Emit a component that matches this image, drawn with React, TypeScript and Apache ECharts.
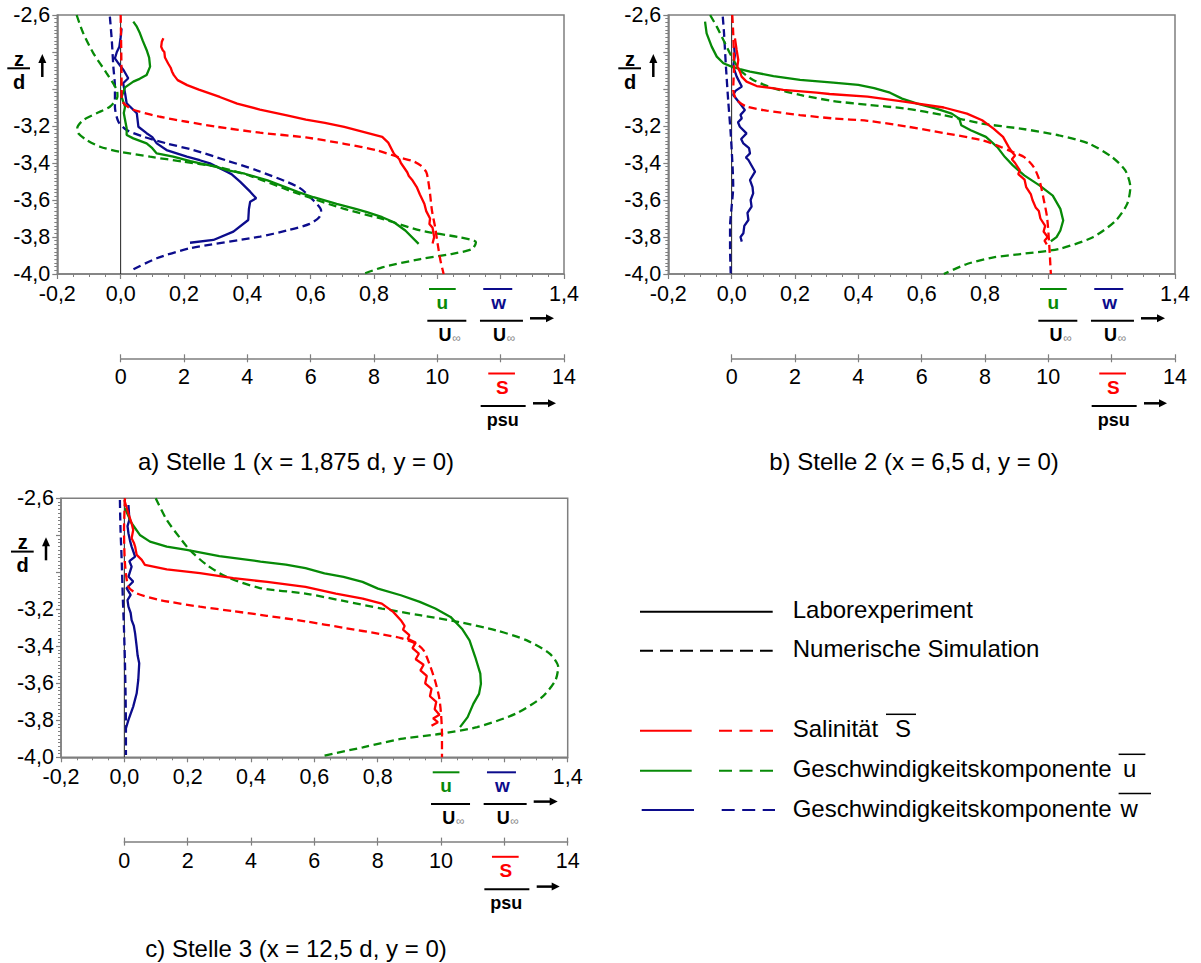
import React, { useEffect, useRef } from "react";
import * as echarts from "echarts";

// ---------- DATA (x = u/U∞ or w/U∞, S in psu ; y = z/d) ----------
const zeroLine = [[0, -2.6], [0, -4.0]];

// Panel a) Stelle 1
const redSolidA = [[1.35,-2.726],[1.30,-2.745],[1.28,-2.772],[1.33,-2.79],[1.38,-2.80],[1.40,-2.83],[1.50,-2.862],[1.58,-2.885],[1.62,-2.905],[1.68,-2.925],[1.80,-2.952],[2.10,-2.979],[2.47,-3.003],[3.13,-3.043],[3.68,-3.079],[4.40,-3.111],[5.25,-3.142],[5.85,-3.165],[6.45,-3.183],[7.06,-3.205],[7.66,-3.232],[8.26,-3.259],[8.45,-3.29],[8.63,-3.35],[8.80,-3.38],[8.85,-3.40],[9.05,-3.45],[9.10,-3.47],[9.20,-3.49],[9.35,-3.53],[9.45,-3.57],[9.59,-3.62],[9.65,-3.66],[9.77,-3.70],[9.75,-3.73],[9.85,-3.75],[9.90,-3.80],[9.85,-3.835]];
const redDashA = [[0.0,-2.6],[0.02,-2.8],[0.03,-3.0],[0.03,-3.059],[0.30,-3.104],[0.61,-3.123],[1.24,-3.150],[2.09,-3.177],[3.03,-3.204],[4.40,-3.236],[5.85,-3.262],[7.06,-3.296],[8.10,-3.332],[8.80,-3.370],[9.23,-3.39],[9.47,-3.413],[9.65,-3.449],[9.71,-3.494],[9.77,-3.566],[9.83,-3.657],[9.93,-3.747],[10.01,-3.837],[10.10,-3.928],[10.20,-4.0]];
const greenSolidA = [[0.040,-2.636],[0.05,-2.66],[0.061,-2.699],[0.07,-2.74],[0.082,-2.789],[0.09,-2.83],[0.093,-2.879],[0.082,-2.924],[0.06,-2.945],[0.040,-2.96],[0.014,-2.991],[0.003,-3.042],[0.014,-3.096],[0.01,-3.13],[0.014,-3.168],[0.019,-3.212],[0.019,-3.249],[0.040,-3.267],[0.082,-3.294],[0.10,-3.32],[0.114,-3.348],[0.166,-3.366],[0.22,-3.39],[0.251,-3.402],[0.30,-3.42],[0.335,-3.438],[0.392,-3.458],[0.464,-3.494],[0.561,-3.557],[0.609,-3.585],[0.682,-3.621],[0.742,-3.648],[0.778,-3.666],[0.826,-3.693],[0.863,-3.72],[0.899,-3.765],[0.941,-3.837]];
const greenDashA = [[-0.139,-2.6],[-0.118,-2.699],[-0.086,-2.807],[-0.044,-2.915],[-0.012,-3.005],[-0.010,-3.04],[-0.034,-3.096],[-0.076,-3.131],[-0.118,-3.168],[-0.137,-3.212],[-0.134,-3.239],[-0.107,-3.276],[-0.065,-3.312],[-0.002,-3.339],[0.093,-3.366],[0.198,-3.393],[0.303,-3.42],[0.409,-3.47],[0.561,-3.566],[0.706,-3.648],[0.826,-3.702],[0.947,-3.765],[1.068,-3.801],[1.122,-3.828],[1.110,-3.865],[1.044,-3.892],[0.947,-3.919],[0.826,-3.964],[0.766,-4.0]];
const blueSolidA = [[0.003,-2.672],[0.0,-2.72],[-0.004,-2.771],[-0.012,-2.80],[-0.018,-2.834],[-0.007,-2.861],[0.01,-2.90],[0.024,-2.942],[0.008,-2.969],[0.014,-3.023],[0.019,-3.077],[0.051,-3.131],[0.056,-3.204],[0.082,-3.239],[0.10,-3.26],[0.114,-3.294],[0.145,-3.33],[0.209,-3.366],[0.25,-3.385],[0.282,-3.402],[0.335,-3.447],[0.35,-3.46],[0.377,-3.501],[0.409,-3.555],[0.428,-3.591],[0.409,-3.609],[0.405,-3.65],[0.403,-3.708],[0.356,-3.771],[0.293,-3.816],[0.219,-3.831]];
const blueDashA = [[-0.034,-2.609],[-0.028,-2.735],[-0.023,-2.879],[-0.018,-2.988],[-0.018,-3.096],[-0.007,-3.177],[0.019,-3.222],[0.072,-3.258],[0.145,-3.294],[0.23,-3.33],[0.33,-3.384],[0.43,-3.44],[0.561,-3.53],[0.609,-3.603],[0.633,-3.657],[0.627,-3.693],[0.597,-3.729],[0.525,-3.765],[0.44,-3.798],[0.219,-3.861],[0.114,-3.915],[0.040,-3.975]];

// Panel b) Stelle 2
const redSolidB = [[0.105,-2.726],[0.158,-2.789],[0.21,-2.843],[0.18,-2.879],[0.26,-2.906],[0.316,-2.933],[0.47,-2.96],[0.79,-2.984],[1.28,-2.995],[1.63,-3.005],[2.68,-3.02],[3.09,-3.027],[4.29,-3.041],[5.5,-3.07],[6.70,-3.10],[7.43,-3.133],[7.91,-3.169],[8.27,-3.214],[8.57,-3.259],[8.75,-3.314],[8.85,-3.34],[8.95,-3.36],[8.85,-3.38],[8.95,-3.40],[9.10,-3.44],[9.05,-3.46],[9.25,-3.49],[9.30,-3.53],[9.45,-3.57],[9.50,-3.60],[9.60,-3.64],[9.70,-3.66],[9.75,-3.70],[9.90,-3.74],[9.85,-3.77],[9.98,-3.80],[9.88,-3.82],[9.95,-3.84]];
const redDashB = [[0.02,-2.6],[0.05,-2.699],[0.074,-2.879],[0.05,-3.005],[0.158,-3.059],[0.47,-3.095],[1.105,-3.117],[2.158,-3.141],[3.21,-3.159],[4.29,-3.172],[5.5,-3.202],[6.70,-3.238],[7.91,-3.277],[8.51,-3.314],[8.88,-3.341],[9.24,-3.368],[9.54,-3.422],[9.72,-3.494],[9.84,-3.585],[9.96,-3.693],[10.02,-3.819],[10.08,-4.0]];
const greenSolidB = [[-0.084,-2.636],[-0.079,-2.699],[-0.063,-2.771],[-0.047,-2.825],[-0.026,-2.861],[0.0,-2.879],[0.026,-2.892],[0.058,-2.906],[0.132,-2.93],[0.216,-2.951],[0.321,-2.966],[0.40,-2.978],[0.45,-2.995],[0.50,-3.02],[0.538,-3.052],[0.586,-3.079],[0.646,-3.106],[0.695,-3.133],[0.719,-3.16],[0.725,-3.196],[0.755,-3.223],[0.803,-3.259],[0.839,-3.314],[0.863,-3.368],[0.888,-3.413],[0.924,-3.467],[0.972,-3.521],[1.014,-3.576],[1.038,-3.648],[1.047,-3.711],[1.038,-3.765],[1.026,-3.801],[1.008,-3.823]];
const greenDashB = [[-0.068,-2.6],[-0.047,-2.663],[-0.026,-2.735],[0.0,-2.825],[0.026,-2.897],[0.068,-2.951],[0.132,-2.996],[0.216,-3.032],[0.321,-3.065],[0.429,-3.085],[0.55,-3.106],[0.67,-3.142],[0.791,-3.187],[0.912,-3.214],[1.032,-3.25],[1.129,-3.296],[1.201,-3.368],[1.243,-3.44],[1.259,-3.53],[1.249,-3.621],[1.213,-3.711],[1.141,-3.801],[1.032,-3.865],[0.912,-3.892],[0.827,-3.91],[0.743,-3.946],[0.67,-4.0]];
const blueSolidB = [[0.008,-2.771],[0.01,-2.82],[0.005,-2.879],[0.016,-2.933],[0.032,-2.987],[0.012,-3.01],[0.005,-3.032],[0.026,-3.077],[0.042,-3.114],[0.028,-3.14],[0.032,-3.159],[0.02,-3.18],[0.026,-3.204],[0.047,-3.24],[0.03,-3.27],[0.037,-3.294],[0.055,-3.32],[0.058,-3.348],[0.045,-3.37],[0.053,-3.384],[0.074,-3.447],[0.058,-3.492],[0.066,-3.53],[0.068,-3.564],[0.06,-3.60],[0.063,-3.636],[0.05,-3.67],[0.053,-3.708],[0.04,-3.74],[0.037,-3.78],[0.028,-3.80],[0.032,-3.825]];
const blueDashB = [[-0.028,-2.609],[-0.024,-2.699],[-0.018,-2.879],[-0.011,-3.059],[-0.003,-3.24],[0.003,-3.42],[0.005,-3.528],[0.0,-3.636],[-0.005,-3.744],[-0.005,-3.852],[-0.003,-3.996]];

// Panel c) Stelle 3
const redSolidC = [[0.0,-2.609],[0.126,-2.681],[0.23,-2.735],[0.28,-2.771],[0.23,-2.816],[0.30,-2.84],[0.34,-2.861],[0.39,-2.906],[0.55,-2.933],[0.65,-2.96],[1.34,-2.984],[2.39,-3.005],[3.44,-3.032],[4.51,-3.052],[5.72,-3.079],[6.68,-3.115],[7.53,-3.142],[8.13,-3.169],[8.49,-3.214],[8.73,-3.259],[8.85,-3.29],[8.80,-3.31],[9.0,-3.34],[8.95,-3.36],[9.2,-3.38],[9.1,-3.41],[9.3,-3.44],[9.2,-3.47],[9.45,-3.50],[9.35,-3.53],[9.55,-3.56],[9.5,-3.60],[9.7,-3.63],[9.65,-3.67],[9.85,-3.70],[9.8,-3.74],[9.95,-3.77],[9.75,-3.79],[9.9,-3.81],[9.7,-3.83]];
const redDashC = [[0.02,-2.6],[-0.01,-2.771],[0.02,-2.951],[0.126,-3.077],[0.39,-3.114],[1.13,-3.15],[2.39,-3.186],[3.44,-3.21],[4.5,-3.235],[5.72,-3.265],[6.92,-3.30],[8.13,-3.335],[8.73,-3.356],[9.21,-3.386],[9.45,-3.422],[9.63,-3.494],[9.81,-3.585],[9.94,-3.675],[10.0,-3.765],[10.03,-3.874],[10.03,-4.0]];
const greenSolidC = [[0.002,-2.654],[0.023,-2.735],[0.049,-2.798],[0.081,-2.834],[0.134,-2.861],[0.197,-2.879],[0.30,-2.912],[0.43,-2.942],[0.51,-2.958],[0.572,-2.978],[0.632,-3.006],[0.692,-3.025],[0.752,-3.052],[0.801,-3.088],[0.873,-3.124],[0.933,-3.16],[0.982,-3.196],[1.03,-3.241],[1.066,-3.305],[1.09,-3.368],[1.108,-3.458],[1.124,-3.548],[1.126,-3.603],[1.12,-3.657],[1.102,-3.711],[1.084,-3.783],[1.06,-3.837]];
const greenDashC = [[0.099,-2.6],[0.134,-2.717],[0.176,-2.815],[0.207,-2.88],[0.26,-2.96],[0.323,-3.025],[0.428,-3.085],[0.572,-3.115],[0.692,-3.155],[0.813,-3.196],[0.933,-3.232],[1.054,-3.268],[1.174,-3.314],[1.271,-3.368],[1.343,-3.44],[1.37,-3.512],[1.361,-3.585],[1.319,-3.675],[1.235,-3.765],[1.114,-3.837],[0.994,-3.874],[0.873,-3.901],[0.753,-3.946],[0.632,-3.991]];
const blueSolidC = [[0.013,-2.636],[0.016,-2.717],[0.01,-2.75],[0.013,-2.789],[0.018,-2.83],[0.023,-2.861],[0.034,-2.915],[0.016,-2.94],[0.023,-2.969],[0.013,-3.023],[0.028,-3.05],[0.007,-3.086],[0.02,-3.122],[0.01,-3.15],[0.013,-3.186],[0.02,-3.22],[0.023,-3.258],[0.03,-3.29],[0.034,-3.33],[0.039,-3.402],[0.042,-3.45],[0.047,-3.492],[0.044,-3.582],[0.039,-3.654],[0.028,-3.726],[0.013,-3.798],[0.005,-3.843]];
const blueDashC = [[-0.014,-2.609],[-0.012,-2.771],[-0.008,-2.951],[-0.005,-3.132],[-0.001,-3.312],[0.002,-3.492],[0.004,-3.672],[0.005,-3.852],[0.005,-3.987]];

const captions = ["a) Stelle 1 (x = 1,875 d, y = 0)", "b) Stelle 2 (x = 6,5 d, y = 0)", "c) Stelle 3 (x = 12,5 d, y = 0)"];
const legendRows = ["Laborexperiment", "Numerische Simulation", "Salinität", "Geschwindigkeitskomponente", "Geschwindigkeitskomponente"];

// ---------- LAYOUT / STYLE ----------
const FONT = "'Liberation Sans', Arial, Helvetica, sans-serif";
const RED = "#ff0000";
const GREEN = "#078a07";
const BLUE = "#0c0c8c";
const GRAY = "#7f7f7f";
const W = 506.7;
const H = 259;
const TICK_FONT = 21.5;
const LW = 2.3;
const PANELS = [
  { left: 57.3, top: 15, capX: 296, capY: 461 },
  { left: 668.3, top: 15, capX: 914, capY: 461 },
  { left: 61, top: 498.3, capX: 296, capY: 948 },
];
const panelData = [
  { rs: redSolidA, rd: redDashA, gs: greenSolidA, gd: greenDashA, bs: blueSolidA, bd: blueDashA },
  { rs: redSolidB, rd: redDashB, gs: greenSolidB, gd: greenDashB, bs: blueSolidB, bd: blueDashB },
  { rs: redSolidC, rd: redDashC, gs: greenSolidC, gd: greenDashC, bs: blueSolidC, bd: blueDashC },
];

const fmt1 = (v: number) => {
  const r = Math.round(v * 10) / 10;
  return (r === 0 ? 0 : r).toFixed(1).replace(".", ",");
};

function txt(x: number, y: number, text: string, opts: any = {}) {
  return {
    type: "text",
    x,
    y,
    silent: true,
    style: {
      text,
      fill: opts.fill || "#000",
      font: opts.font || `24px ${FONT}`,
      textAlign: opts.align || "center",
      textVerticalAlign: "middle",
      verticalAlign: "middle",
    },
  };
}
function ln(x1: number, y1: number, x2: number, y2: number, stroke = "#000", lineWidth = 2, lineDash?: number[]) {
  return {
    type: "line",
    silent: true,
    shape: { x1, y1, x2, y2 },
    style: { stroke, lineWidth, lineDash },
  };
}
function poly(points: number[][], fill = "#000") {
  return { type: "polygon", silent: true, shape: { points }, style: { fill } };
}

function panelGraphics(p: any, caption: string) {
  const L = p.left, T = p.top, R = L + W;
  const t10 = L + 0.75 * W;
  const t12 = L + 0.875 * W;
  const bold = `bold 19px ${FONT}`;
  const boldS = `bold 18px ${FONT}`;
  const inf = `12px ${FONT}`;
  const els: any[] = [];
  // u / U∞
  els.push(ln(t10 - 8.3, T + 274, t10 + 18.4, T + 274, GREEN, 2));
  els.push(txt(t10 + 5, T + 287, "u", { fill: GREEN, font: bold }));
  els.push(ln(t10 - 10, T + 305.7, t10 + 29, T + 305.7, "#000", 2));
  els.push(txt(t10 + 7.7, T + 319.5, "U", { font: boldS }));
  els.push(txt(t10 + 15, T + 322.5, "∞", { font: inf, fill: "#8a8a8a", align: "left" }));
  // w / U∞
  els.push(ln(t12 - 17.4, T + 274, t12 + 11.6, T + 274, BLUE, 2));
  els.push(txt(t12 - 2, T + 287, "w", { fill: BLUE, font: bold }));
  els.push(ln(t12 - 20.7, T + 305.7, t12 + 22.3, T + 305.7, "#000", 2));
  els.push(txt(t12 - 1.2, T + 319.5, "U", { font: boldS }));
  els.push(txt(t12 + 6, T + 322.5, "∞", { font: inf, fill: "#8a8a8a", align: "left" }));
  // arrow after u,w
  els.push(ln(R - 34, T + 303.3, R - 17, T + 303.3, "#000", 2.5));
  els.push(poly([[R - 10, T + 303.3], [R - 18, T + 299.3], [R - 18, T + 307.3]]));
  // S / psu
  els.push(ln(t12 - 12.4, T + 358.5, t12 + 14.3, T + 358.5, RED, 2));
  els.push(txt(t12 + 1.6, T + 372, "S", { fill: RED, font: bold }));
  els.push(ln(t12 - 20, T + 391, t12 + 25, T + 391, "#000", 2));
  els.push(txt(t12 + 2, T + 405, "psu", { font: boldS }));
  els.push(ln(R - 31, T + 388.3, R - 15, T + 388.3, "#000", 2.5));
  els.push(poly([[R - 8, T + 388.3], [R - 16, T + 384.3], [R - 16, T + 392.3]]));
  // z / d
  els.push(txt(L - 38.3, T + 44, "z", { font: `bold 20px ${FONT}` }));
  els.push(ln(L - 50, T + 53.3, L - 27.3, T + 53.3, "#000", 2));
  els.push(txt(L - 38.3, T + 66.5, "d", { font: `bold 20px ${FONT}` }));
  els.push(ln(L - 15, T + 62, L - 15, T + 46, "#000", 2.5));
  els.push(poly([[L - 15, T + 39], [L - 19, T + 48], [L - 11, T + 48]]));
  // caption
  els.push(txt(p.capX, p.capY, caption, { font: `24px ${FONT}` }));
  return els;
}

function legendGraphics() {
  const els: any[] = [];
  const f = `24px ${FONT}`;
  const tx = 792.7;
  els.push(ln(640, 611.7, 772.7, 611.7, "#000", 2));
  els.push(txt(tx, 609.5, legendRows[0], { align: "left", font: f }));
  els.push(ln(640, 650.7, 772.7, 650.7, "#000", 2, [13, 7]));
  els.push(txt(tx, 648.5, legendRows[1], { align: "left", font: f }));
  const rows = [
    { y: 730.7, c: RED, s0: 640, s1: 691.7, d0: 719, d1: 773, sym: "S", sx: 895, o0: 886, o1: 916 },
    { y: 770.7, c: GREEN, s0: 640, s1: 691.7, d0: 719, d1: 773, sym: "u", sx: 1123, o0: 1118.6, o1: 1145.4 },
    { y: 810, c: BLUE, s0: 641.7, s1: 694, d0: 721.7, d1: 775, sym: "w", sx: 1120.5, o0: 1118.6, o1: 1151 },
  ];
  rows.forEach((r, i) => {
    els.push(ln(r.s0, r.y, r.s1, r.y, r.c, 2));
    els.push(ln(r.d0, r.y, r.d1, r.y, r.c, 2, [13, 7.5]));
    els.push(txt(tx, r.y - 2, legendRows[2 + i], { align: "left", font: f }));
    els.push(txt(r.sx, r.y - 2, r.sym, { align: "left", font: f }));
    els.push(ln(r.o0, r.y - 16.4, r.o1, r.y - 16.4, "#000", 1.5));
  });
  return els;
}

function buildOption() {
  const grid: any[] = [];
  const xAxis: any[] = [];
  const yAxis: any[] = [];
  const series: any[] = [];
  let graphic: any[] = [];
  const labelStyle = { color: "#000", fontSize: TICK_FONT, fontFamily: FONT };

  PANELS.forEach((p, i) => {
    const g = 2 * i, sg = 2 * i + 1;
    const xu = 4 * i, xs = 4 * i + 1;
    grid.push({ left: p.left, top: p.top, width: W, height: H, show: true, borderColor: GRAY, borderWidth: 1.5, backgroundColor: "transparent", containLabel: false });
    grid.push({ left: p.left + W / 8, top: p.top + 343.3 - 10, width: (W * 7) / 8, height: 10, show: false, containLabel: false });

    xAxis.push({
      gridIndex: g, type: "value", min: -0.2, max: 1.4, interval: 0.2, position: "bottom",
      axisLine: { show: true, onZero: false, lineStyle: { color: GRAY, width: 1.5 } },
      axisTick: { show: true, length: 5, lineStyle: { color: GRAY, width: 1.2 } },
      minorTick: { show: true, splitNumber: 4, length: 3, lineStyle: { color: GRAY, width: 1 } },
      splitLine: { show: false },
      axisLabel: {
        ...labelStyle, margin: 9,
        formatter: (v: number) => {
          const r = Math.round(v * 10) / 10;
          if (Math.abs(r - 1.0) < 1e-6 || Math.abs(r - 1.2) < 1e-6) return "";
          return fmt1(v);
        },
      },
    });
    xAxis.push({ gridIndex: g, type: "value", min: -2, max: 14, show: false });
    xAxis.push({
      gridIndex: sg, type: "value", min: 0, max: 14, interval: 2, position: "bottom",
      axisLine: { show: true, onZero: false, lineStyle: { color: GRAY, width: 1.5 } },
      axisTick: { show: true, length: 4, lineStyle: { color: GRAY, width: 1.2 } },
      splitLine: { show: false },
      axisLabel: { ...labelStyle, margin: 8, formatter: (v: number) => (Math.round(v) === 12 ? "" : String(Math.round(v))) },
    });
    xAxis.push({
      gridIndex: sg, type: "value", min: 0, max: 14, interval: 2, position: "bottom",
      axisLine: { show: false, onZero: false },
      axisTick: { show: true, inside: true, length: 4, lineStyle: { color: GRAY, width: 1.2 } },
      splitLine: { show: false },
      axisLabel: { show: false },
    });

    yAxis.push({
      gridIndex: g, type: "value", min: -4.0, max: -2.6, interval: 0.2,
      axisLine: { show: true, onZero: false, lineStyle: { color: GRAY, width: 1.5 } },
      axisTick: { show: true, length: 5, lineStyle: { color: GRAY, width: 1.2 } },
      minorTick: { show: true, splitNumber: 10, length: 3, lineStyle: { color: GRAY, width: 1 } },
      splitLine: { show: false },
      axisLabel: {
        ...labelStyle, margin: 7,
        formatter: (v: number) => {
          const r = Math.round(v * 10) / 10;
          if (Math.abs(r + 2.8) < 1e-6 || Math.abs(r + 3.0) < 1e-6) return "";
          return fmt1(v);
        },
      },
    });
    yAxis.push({ gridIndex: sg, type: "value", min: 0, max: 1, show: false });

    const d = panelData[i];
    const mk = (data: number[][], xi: number, color: string, dashed: boolean, width = LW) => ({
      type: "line", data, xAxisIndex: xi, yAxisIndex: g, showSymbol: false, symbol: "none", silent: true,
      smooth: dashed ? 0.25 : false,
      lineStyle: { color, width, type: dashed ? [8, 4.5] : "solid" },
    });
    series.push(mk(zeroLine, xu, "#222", false, 1));
    series.push(mk(d.bd, xu, BLUE, true));
    series.push(mk(d.bs, xu, BLUE, false));
    series.push(mk(d.gd, xu, GREEN, true));
    series.push(mk(d.gs, xu, GREEN, false));
    series.push(mk(d.rd, xs, RED, true));
    series.push(mk(d.rs, xs, RED, false));

    graphic = graphic.concat(panelGraphics(p, captions[i]));
  });
  graphic = graphic.concat(legendGraphics());

  return {
    animation: false,
    backgroundColor: "#ffffff",
    textStyle: { fontFamily: FONT },
    grid, xAxis, yAxis, series, graphic,
  };
}

export default function App() {
  const ref = useRef<HTMLDivElement>(null);
  useEffect(() => {
    if (!ref.current) return;
    const chart = echarts.init(ref.current, undefined, { renderer: "svg" });
    chart.setOption(buildOption() as any);
    return () => chart.dispose();
  }, []);
  return (
    <div
      ref={ref}
      style={{ position: "absolute", left: 0, top: 0, width: "1201px", height: "963px", background: "#fff" }}
    />
  );
}
